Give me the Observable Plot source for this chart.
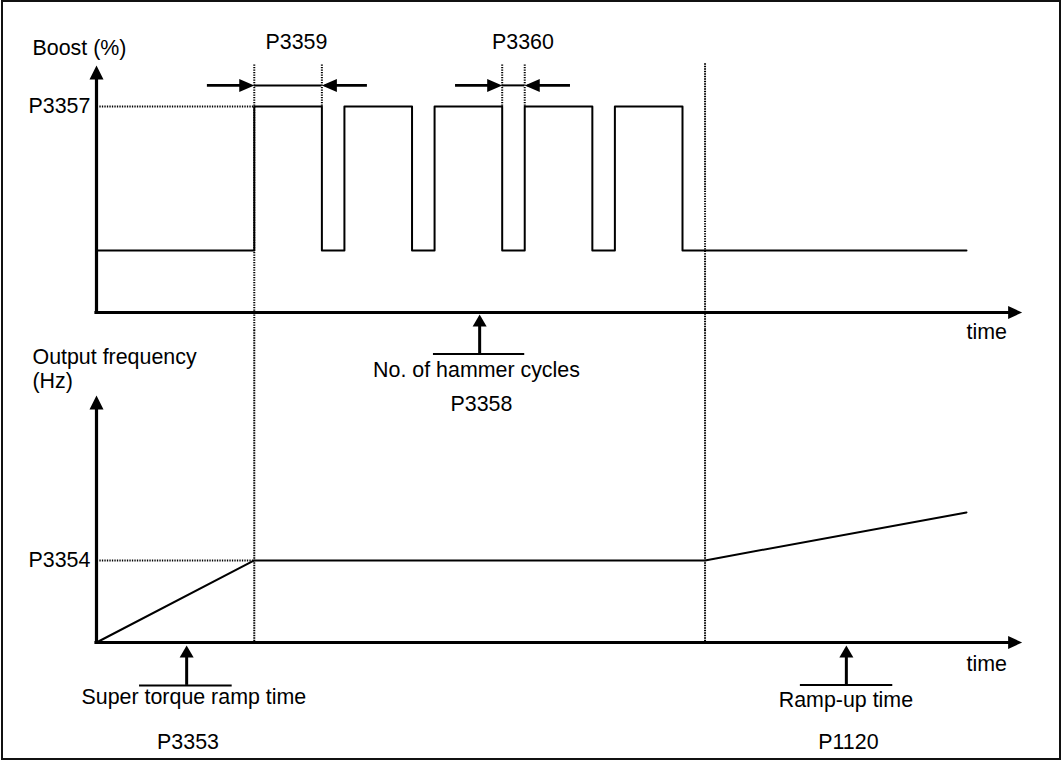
<!DOCTYPE html>
<html>
<head>
<meta charset="utf-8">
<script src="https://cdn.jsdelivr.net/npm/d3@7"></script>
<script src="https://cdn.jsdelivr.net/npm/@observablehq/plot@0.6"></script>
<style>
  html, body { margin: 0; padding: 0; background: #fff; }
  #wrap { position: relative; width: 1061px; height: 761px; overflow: hidden; background: #fff; }
  #frame { position: absolute; left: 1px; top: 0px; width: 1060px; height: 760px; box-sizing: border-box; border: 2.5px solid #111; }
  #top, #bottom { position: absolute; left: 0; }
  #top { top: 0; }
  #bottom { top: 330px; }
  svg { overflow: visible; }
</style>
</head>
<body>
<div id="wrap">
  <div id="frame"></div>
  <div id="top"></div>
  <div id="bottom"></div>
</div>
<script>
// ---------- data (time in arbitrary units, value in arbitrary units) ----------
// Boost (%) signal: hammer pulses
const boostT = [0, 7, 10, 11, 14, 15, 18, 19, 22, 23, 26, 38.6];
const boostV = [2.53, 8.41, 2.53, 8.41, 2.53, 8.41, 2.53, 8.41, 2.53, 8.41, 2.53, 2.53];
const boostMax = 8.41;          // P3357 level
// Output frequency signal
const freqT = [0, 7, 27, 38.6];
const freqV = [0, 3.35, 3.35, 5.31];
const freqHold = 3.35;          // P3354 level
// axis extents
const timeEnd = 41.07;
const valueTop = 10.08;
// event times
const hammerStart = 7, hammerEnd = 27;
// dimension markers (P3359, P3360)
const dimLevel = 9.27;
const dimSpans = [[7, 10], [18, 19]];
const dimArrowsRight = [{t1: 4.92, t2: 6.85, tip: 7}, {t1: 15.93, t2: 17.85, tip: 18}];
const dimArrowsLeft  = [{t1: 12.02, t2: 10.15, tip: 10}, {t1: 21.03, t2: 19.15, tip: 19}];
// pointers under the time axes
const topPointers = [{t: 17, tip: -0.08, base: -1.69, left: 14.95, right: 19.0}];
const bottomPointers = [
  {t: 4.0, tip: -0.12, base: -1.75, left: 1.91, right: 6.02},
  {t: 33.27, tip: -0.12, base: -1.73, left: 31.23, right: 35.33}
];
// dotted guides
const topGuides = [
  {t: 7, from: 10.1, to: -0.74},
  {t: 10, from: 10.1, to: boostMax},
  {t: 18, from: 10.1, to: boostMax},
  {t: 19, from: 10.1, to: boostMax},
  {t: 27, from: 10.15, to: -0.74}
];
const bottomGuides = [
  {t: 7, from: 12.74, to: 0},
  {t: 27, from: 12.74, to: 0}
];
// labels
const topLabelsStart = [{t: -2.84, v: 10.80, text: "Boost (%)"}, {t: 38.6, v: -0.79, text: "time"}];
const topLabelsMiddle = [
  {t: 8.87, v: 11.04, text: "P3359"},
  {t: 18.92, v: 11.05, text: "P3360"},
  {t: 16.86, v: -2.37, text: "No. of hammer cycles"},
  {t: 17.08, v: -3.73, text: "P3358"}
];
const topLabelsEnd = [{t: -0.27, v: 8.44, text: "P3357"}];
const bottomLabelsStart = [
  {t: -2.84, v: 11.66, text: "Output frequency"},
  {t: -2.84, v: 10.67, text: "(Hz)"},
  {t: 38.6, v: -0.87, text: "time"}
];
const bottomLabelsMiddle = [
  {t: 4.32, v: -2.22, text: "Super torque ramp time"},
  {t: 4.06, v: -4.05, text: "P3353"},
  {t: 33.25, v: -2.34, text: "Ramp-up time"},
  {t: 33.36, v: -4.05, text: "P1120"}
];
const bottomLabelsEnd = [{t: -0.27, v: freqHold, text: "P3354"}];

// ---------- arrowhead symbols (tip at the point) ----------
function head(dir, L, w) {
  return {
    draw(ctx) {
      if (dir === "up") { ctx.moveTo(0, 0); ctx.lineTo(-w, L); ctx.lineTo(w, L); }
      else if (dir === "right") { ctx.moveTo(0, 0); ctx.lineTo(-L, -w); ctx.lineTo(-L, w); }
      else { ctx.moveTo(0, 0); ctx.lineTo(L, -w); ctx.lineTo(L, w); }
      ctx.closePath();
    }
  };
}
const axisUp = head("up", 14, 7);
const axisRight = head("right", 14, 6.5);
const dimRight = head("right", 15, 6.5);
const dimLeft = head("left", 15, 6.5);
const ptrUp = head("up", 12, 7);

const FONT = "'Liberation Sans', Arial, Helvetica, sans-serif";
const FS = 21.4;
const dotted = {stroke: "#000", strokeWidth: 2, strokeDasharray: "1.3,1.2"};

function axesMarks() {
  return [
    Plot.ruleX([0], {x: d => d, y1: -0.06, y2: valueTop - 0.24, stroke: "#000", strokeWidth: 3.2}),
    Plot.ruleY([0], {y: d => d, x1: -0.07, x2: timeEnd - 0.27, stroke: "#000", strokeWidth: 3.2}),
    Plot.dot([{t: 0, v: valueTop}], {x: "t", y: "v", symbol: axisUp, r: 5, fill: "#000", stroke: "none"}),
    Plot.dot([{t: timeEnd, v: 0}], {x: "t", y: "v", symbol: axisRight, r: 5, fill: "#000", stroke: "none"})
  ];
}
function pointerMarks(ptrs) {
  return [
    Plot.ruleX(ptrs, {x: "t", y1: "base", y2: d => d.tip - 0.2, stroke: "#000", strokeWidth: 3}),
    Plot.ruleY(ptrs, {y: "base", x1: "left", x2: "right", stroke: "#000", strokeWidth: 2}),
    Plot.dot(ptrs, {x: "t", y: "tip", symbol: ptrUp, r: 5, fill: "#000", stroke: "none"})
  ];
}
function labelMarks(start, middle, end) {
  const common = {x: "t", y: "v", text: "text", fill: "#000", fontSize: FS, fontFamily: FONT};
  return [
    Plot.text(start, {...common, textAnchor: "start"}),
    Plot.text(middle, {...common, textAnchor: "middle"}),
    Plot.text(end, {...common, textAnchor: "end"})
  ];
}

const scales = {
  x: {domain: [0, 26], range: [96, 682], axis: null},
  y: {domain: [0, 10], range: [312, 67], axis: null}
};
const style = {background: "transparent", overflow: "visible", fontFamily: FONT};

// ---------- top panel: Boost ----------
const boostData = boostT.map((t, i) => ({t, v: boostV[i]}));
const topPlot = Plot.plot({
  width: 1061, height: 330, ...scales, style,
  marks: [
    Plot.ruleX(topGuides, {x: "t", y1: "from", y2: "to", ...dotted}),
    Plot.ruleY([boostMax], {y: d => d, x1: 0.15, x2: hammerStart, ...dotted}),
    Plot.line(boostData, {x: "t", y: "v", curve: "step-after", stroke: "#000", strokeWidth: 2}),
    ...axesMarks(),
    Plot.ruleY(dimSpans, {y: () => dimLevel, x1: d => d[0], x2: d => d[1], stroke: "#000", strokeWidth: 2}),
    Plot.ruleY(dimArrowsRight, {y: () => dimLevel, x1: "t1", x2: "t2", stroke: "#000", strokeWidth: 2.6}),
    Plot.ruleY(dimArrowsLeft, {y: () => dimLevel, x1: "t1", x2: "t2", stroke: "#000", strokeWidth: 2.6}),
    Plot.dot(dimArrowsRight, {x: "tip", y: () => dimLevel, symbol: dimRight, r: 5, fill: "#000", stroke: "none"}),
    Plot.dot(dimArrowsLeft, {x: "tip", y: () => dimLevel, symbol: dimLeft, r: 5, fill: "#000", stroke: "none"}),
    ...pointerMarks(topPointers),
    ...labelMarks(topLabelsStart, topLabelsMiddle, topLabelsEnd)
  ]
});
document.getElementById("top").appendChild(topPlot);

// ---------- bottom panel: Output frequency ----------
const freqData = freqT.map((t, i) => ({t, v: freqV[i]}));
const bottomPlot = Plot.plot({
  width: 1061, height: 431, ...scales, style,
  marks: [
    Plot.ruleX(bottomGuides, {x: "t", y1: "from", y2: "to", ...dotted}),
    Plot.ruleY([freqHold], {y: d => d, x1: 0.15, x2: hammerStart, ...dotted}),
    Plot.line(freqData, {x: "t", y: "v", stroke: "#000", strokeWidth: 2}),
    ...axesMarks(),
    ...pointerMarks(bottomPointers),
    ...labelMarks(bottomLabelsStart, bottomLabelsMiddle, bottomLabelsEnd)
  ]
});
document.getElementById("bottom").appendChild(bottomPlot);
</script>
</body>
</html>
